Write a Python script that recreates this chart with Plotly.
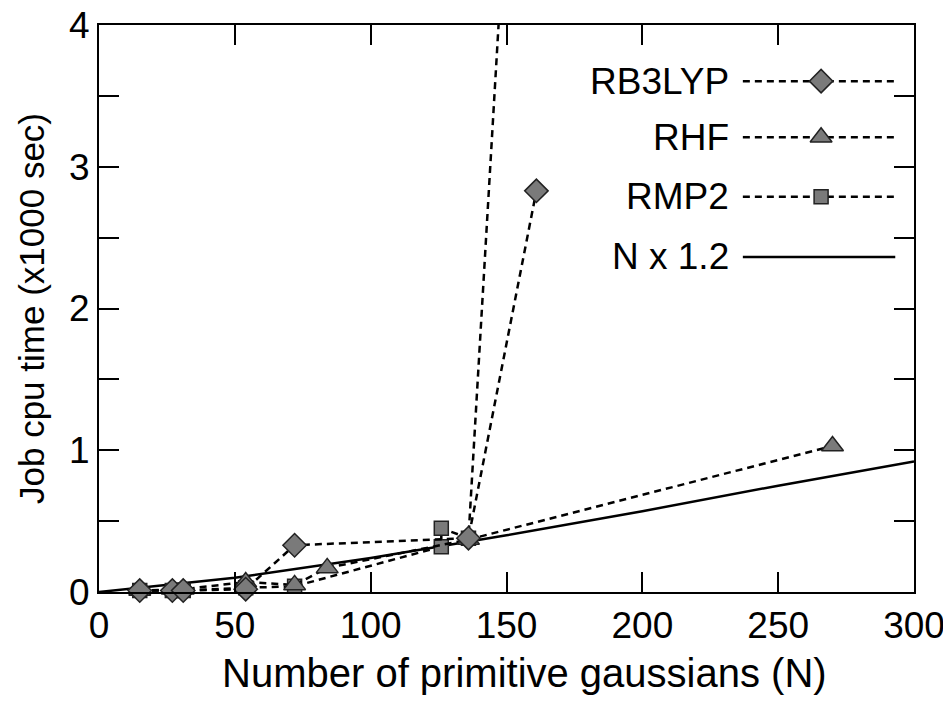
import plotly.graph_objects as go

# ---- data ----
b3lyp_x = [15, 27, 31, 54, 72, 136, 161]
b3lyp_y = [0.01, 0.01, 0.01, 0.02, 0.33, 0.38, 2.83]

rhf_x = [15, 27, 31, 54, 72, 84, 136, 270]
rhf_y = [0.01, 0.02, 0.02, 0.07, 0.05, 0.17, 0.37, 1.03]

rmp2_x = [15, 27, 31, 54, 72, 126, 126, 136, 161]
rmp2_y = [0.01, 0.01, 0.01, 0.03, 0.04, 0.32, 0.45, 0.38, 8.55]

fit_x = [0, 50, 100, 150, 200, 250, 300]
fit_y = [0.0, 0.10, 0.24, 0.40, 0.57, 0.75, 0.92]

x_ticks = [0, 50, 100, 150, 200, 250, 300]
y_ticks = [0, 1, 2, 3, 4]

legend_names = ["RB3LYP", "RHF", "RMP2", "N x 1.2"]

FONT = "Liberation Sans, Arial, sans-serif"
FS = 37
MFILL = "#7a7a7a"
MLINE = "#222222"
DASH = "7px,5px"

fig = go.Figure()

def series(x, y, symbol, size, name):
    fig.add_trace(go.Scatter(
        x=x, y=y, mode="lines+markers", name=name, showlegend=False,
        line=dict(color="black", width=2.5, dash=DASH),
        marker=dict(symbol=symbol, size=size, color=MFILL,
                    line=dict(color=MLINE, width=1.5)),
        cliponaxis=False))

fig.add_trace(go.Scatter(x=fit_x, y=fit_y, mode="lines", name="N x 1.2",
                         showlegend=False, line=dict(color="black", width=2.5)))
series(rmp2_x, rmp2_y, "square", 14, "RMP2")
series(rhf_x, rhf_y, "triangle-up", 19, "RHF")
series(b3lyp_x, b3lyp_y, "diamond", 18, "RB3LYP")

# ---- hand-made legend (labels left of samples) on an overlay axis ----
rows = [0.901, 0.802, 0.697, 0.591]
styles = [("diamond", 18, DASH), ("triangle-up", 19, DASH), ("square", 14, DASH), (None, 0, "solid")]
for name, ry, (sym, sz, dsh) in zip(legend_names, rows, styles):
    fig.add_trace(go.Scatter(x=[0.790, 0.977], y=[ry, ry], mode="lines",
                             xaxis="x2", yaxis="y2", showlegend=False, hoverinfo="skip",
                             line=dict(color="black", width=2.5, dash=dsh)))
    if sym:
        fig.add_trace(go.Scatter(x=[0.886], y=[ry], mode="markers",
                                 xaxis="x2", yaxis="y2", showlegend=False, hoverinfo="skip",
                                 marker=dict(symbol=sym, size=sz, color=MFILL,
                                             line=dict(color=MLINE, width=1.5))))
    fig.add_annotation(x=0.776, y=ry, xref="paper", yref="paper", text=name,
                       showarrow=False, xanchor="right", yanchor="middle",
                       font=dict(family=FONT, size=FS, color="black"))

# x-axis title as an annotation
fig.add_annotation(x=0.522, y=0, xref="paper", yref="paper", yshift=-57,
                   text="Number of primitive gaussians (N)", showarrow=False,
                   xanchor="center", yanchor="top",
                   font=dict(family=FONT, size=40, color="black"))

axis_common = dict(showgrid=False, zeroline=False, showline=True, linecolor="black",
                   linewidth=2, mirror="ticks", ticks="inside", ticklen=20,
                   tickwidth=2, tickcolor="black", automargin=False,
                   ticklabeloverflow="allow",
                   tickfont=dict(family=FONT, size=FS, color="black"))

fig.update_layout(
    width=951, height=704,
    margin=dict(l=91, r=45, t=17, b=120),
    paper_bgcolor="white", plot_bgcolor="white",
    font=dict(family=FONT, color="black"),
    xaxis=dict(range=[0, 300], tickvals=x_ticks, **axis_common),
    yaxis=dict(range=[0, 4], tickvals=y_ticks,
               minor=dict(dtick=0.5, ticks="inside", ticklen=20, tickwidth=2, tickcolor="black"),
               title=dict(text="Job cpu time (x1000 sec)",
                          font=dict(family=FONT, size=35), standoff=14),
               **axis_common),
    xaxis2=dict(range=[0, 1], overlaying="x", visible=False, fixedrange=True),
    yaxis2=dict(range=[0, 1], overlaying="y", visible=False, fixedrange=True),
)

fig.write_html("out.html")
